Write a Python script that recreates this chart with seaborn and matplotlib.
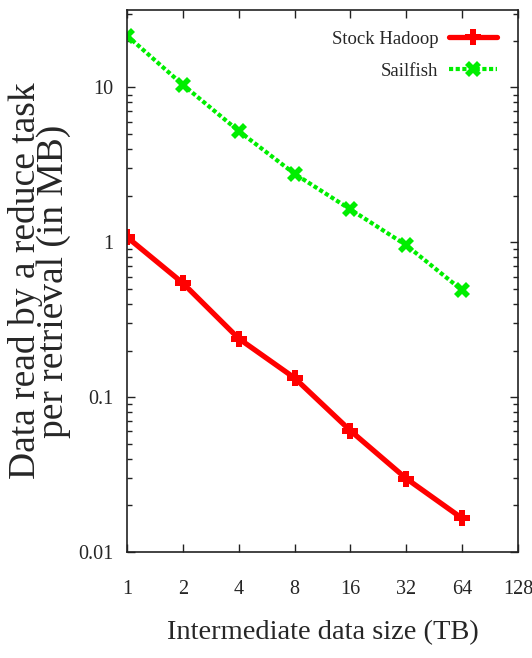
import numpy as np
import pandas as pd
import seaborn as sns
import matplotlib
matplotlib.use("Agg")
import matplotlib.pyplot as plt
from matplotlib.ticker import LogLocator, FixedLocator, FixedFormatter, NullFormatter

# Intermediate data size (TB) and MB read per retrieval by a reduce task
sizes_tb = [1, 2, 4, 8, 16, 32, 64]
stock_hadoop = [1.08, 0.545, 0.239, 0.133, 0.0607, 0.0298, 0.0165]
sailfish = [21.6, 10.4, 5.23, 2.77, 1.63, 0.957, 0.49]
x_ticks = [1, 2, 4, 8, 16, 32, 64, 128]
x_tick_labels = ["1", "2", "4", "8", "16", "32", "64", "128"]
y_ticks = [0.01, 0.1, 1, 10]
y_tick_labels = ["0.01", "0.1", "1", "10"]

sns.set_theme(style="ticks")
plt.rcParams["font.family"] = ["Liberation Serif", "DejaVu Serif"]

fig = plt.figure(figsize=(5.32, 6.58), dpi=100)
ax = fig.add_axes([127 / 532, 106 / 658, 391 / 532, 542 / 658])

df_h = pd.DataFrame({"size": sizes_tb, "mb": stock_hadoop})
df_s = pd.DataFrame({"size": sizes_tb, "mb": sailfish})

sns.lineplot(data=df_h, x="size", y="mb", ax=ax, color="#ff0000", lw=3.8,
             marker="P", markersize=11, markeredgewidth=0, label="Stock Hadoop")
sns.lineplot(data=df_s, x="size", y="mb", ax=ax, color="#00ee00", lw=3,
             linestyle=(0, (1, 0.6)), marker="X", markersize=12,
             markeredgewidth=0, label="Sailfish")

ax.set_xscale("log", base=2)
ax.set_yscale("log")
ax.set_xlim(1, 128)
ax.set_ylim(0.01, 10 ** 1.5)

ax.xaxis.set_major_locator(FixedLocator(x_ticks))
ax.xaxis.set_major_formatter(FixedFormatter(x_tick_labels))
ax.xaxis.set_minor_locator(FixedLocator([]))
ax.yaxis.set_major_locator(FixedLocator(y_ticks))
ax.yaxis.set_major_formatter(FixedFormatter(y_tick_labels))
ax.yaxis.set_minor_locator(LogLocator(base=10, subs=np.arange(2, 10)))
ax.yaxis.set_minor_formatter(NullFormatter())

ax.tick_params(axis="both", which="major", direction="in", length=6, width=1,
               top=True, right=True, labelsize=14.5, color="#222222")
ax.tick_params(axis="y", which="minor", direction="in", length=3.5, width=1,
               right=True, color="#222222")
ax.tick_params(axis="x", which="major", pad=20)
ax.tick_params(axis="y", which="major", pad=10)

for side in ax.spines.values():
    side.set_linewidth(1.2)
    side.set_color("#222222")

ax.set_xlabel("Intermediate data size (TB)", fontsize=20.5, labelpad=15)
ax.set_ylabel("Data read by a reduce task\nper retrieval (in MB)", fontsize=27,
              linespacing=0.78)
ax.yaxis.set_label_coords(-0.142, 0.5)

leg = ax.legend(loc="upper right", frameon=False, markerfirst=False,
                fontsize=13.5, handlelength=2.6, borderaxespad=0.7,
                labelspacing=0.8, handletextpad=0.55)

fig.savefig("out.png", dpi=100, facecolor="white")
